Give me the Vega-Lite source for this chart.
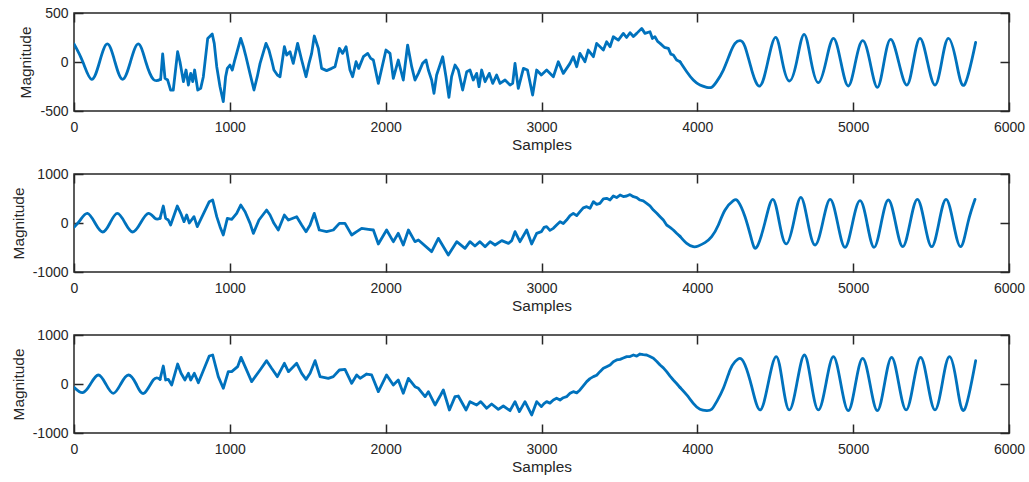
{
  "$schema": "https://vega.github.io/schema/vega-lite/v6.json",
  "autosize": "none",
  "padding": {"left": 74, "top": 13, "right": 955, "bottom": 469},
  "background": "white",
  "bounds": "flush",
  "spacing": 63,
  "datasets": {
    "p1": [
      {"s":0,"v":184},{"s":57,"v":0},{"s":113,"v":-177},{"s":164,"v":0},{"s":214,"v":184},{"s":263,"v":0},{"s":312,"v":-177},{"s":362,"v":0},{"s":413,"v":184},{"s":461,"v":0},{"s":509,"v":-177},{"s":556,"v":-177},
      {"s":569,"v":82},{"s":584,"v":-167},{"s":601,"v":-184},{"s":620,"v":-286},{"s":637,"v":-286},{"s":665,"v":105},{"s":680,"v":3},{"s":702,"v":-200},{"s":719,"v":-82},{"s":734,"v":-235},{"s":749,"v":-116},{"s":762,"v":-200},{"s":774,"v":-82},{"s":794,"v":-286},{"s":813,"v":-269},{"s":830,"v":-150},
      {"s":858,"v":241},{"s":887,"v":286},{"s":900,"v":190},{"s":916,"v":-48},{"s":937,"v":-252},{"s":958,"v":-405},{"s":973,"v":-150},{"s":984,"v":-65},{"s":1001,"v":-31},{"s":1016,"v":-82},{"s":1029,"v":3},{"s":1070,"v":241},{"s":1087,"v":156},{"s":1101,"v":71},{"s":1129,"v":-116},{"s":1155,"v":-286},{"s":1176,"v":-150},{"s":1194,"v":-14},{"s":1232,"v":190},{"s":1251,"v":122},{"s":1268,"v":20},{"s":1283,"v":-82},{"s":1305,"v":-133},{"s":1322,"v":-150},
      {"s":1350,"v":156},{"s":1365,"v":71},{"s":1386,"v":105},{"s":1407,"v":-14},{"s":1435,"v":190},{"s":1461,"v":20},{"s":1489,"v":-150},{"s":1508,"v":-14},{"s":1525,"v":88},{"s":1542,"v":265},{"s":1568,"v":139},{"s":1589,"v":-65},{"s":1621,"v":-88},{"s":1654,"v":-65},{"s":1675,"v":-48},{"s":1703,"v":139},{"s":1724,"v":88},{"s":1746,"v":156},{"s":1771,"v":-82},{"s":1788,"v":-150},{"s":1810,"v":3},{"s":1827,"v":-65},{"s":1857,"v":54},{"s":1885,"v":88},{"s":1904,"v":37},{"s":1921,"v":20},{"s":1953,"v":-218},
      {"s":2002,"v":122},{"s":2028,"v":88},{"s":2049,"v":-167},{"s":2081,"v":20},{"s":2113,"v":-184},{"s":2141,"v":173},{"s":2167,"v":-48},{"s":2188,"v":-184},{"s":2210,"v":-116},{"s":2237,"v":-14},{"s":2259,"v":20},{"s":2274,"v":-82},{"s":2295,"v":-184},{"s":2310,"v":-320},{"s":2327,"v":-133},{"s":2366,"v":54},{"s":2387,"v":-150},{"s":2406,"v":-360},{"s":2423,"v":-150},{"s":2445,"v":-31},{"s":2466,"v":-82},{"s":2494,"v":-286},{"s":2520,"v":-99},{"s":2541,"v":-82},{"s":2562,"v":-184},{"s":2584,"v":-116},{"s":2599,"v":-252},{"s":2616,"v":-82},{"s":2638,"v":-201},{"s":2665,"v":-116},{"s":2687,"v":-218},{"s":2712,"v":-133},{"s":2734,"v":-218},{"s":2766,"v":-184},{"s":2798,"v":-235},{"s":2815,"v":-218},{"s":2830,"v":-14},{"s":2851,"v":-269},{"s":2884,"v":-65},{"s":2910,"v":-82},{"s":2943,"v":-337},{"s":2969,"v":-82},
      {"s":2999,"v":-133},{"s":3033,"v":-82},{"s":3076,"v":-150},{"s":3108,"v":3},{"s":3140,"v":-116},{"s":3183,"v":-14},{"s":3204,"v":54},{"s":3226,"v":-48},{"s":3247,"v":88},{"s":3279,"v":3},{"s":3300,"v":122},{"s":3333,"v":54},{"s":3354,"v":190},{"s":3397,"v":122},{"s":3418,"v":207},{"s":3440,"v":156},{"s":3461,"v":258},{"s":3493,"v":224},{"s":3525,"v":292},{"s":3546,"v":250},{"s":3568,"v":299},{"s":3590,"v":260},{"s":3611,"v":292},{"s":3643,"v":343},{"s":3664,"v":292},{"s":3696,"v":309},{"s":3712,"v":240},{"s":3728,"v":258},{"s":3745,"v":210},{"s":3761,"v":190},{"s":3788,"v":150},{"s":3814,"v":139},{"s":3830,"v":80},{"s":3846,"v":71},{"s":3867,"v":20},{"s":3889,"v":3},
      {"s":3932,"v":-99},{"s":3974,"v":-184},{"s":4017,"v":-235},{"s":4060,"v":-258},{"s":4092,"v":-258},{"s":4124,"v":-200},{"s":4167,"v":-82},{"s":4210,"v":88},{"s":4242,"v":190},{"s":4274,"v":218},{"s":4306,"v":156},{"s":4349,"v":-82},{"s":4402,"v":-245},
      {"s":4452,"v":0},{"s":4503,"v":252},{"s":4546,"v":0},{"s":4590,"v":-194},{"s":4637,"v":0},{"s":4685,"v":282},{"s":4731,"v":0},{"s":4777,"v":-211},{"s":4825,"v":0},{"s":4873,"v":241},{"s":4921,"v":0},{"s":4969,"v":-245},{"s":5015,"v":0},{"s":5061,"v":218},{"s":5108,"v":0},{"s":5155,"v":-258},{"s":5198,"v":0},{"s":5241,"v":231},{"s":5292,"v":0},{"s":5344,"v":-235},{"s":5386,"v":0},{"s":5429,"v":241},{"s":5477,"v":0},{"s":5525,"v":-235},{"s":5568,"v":0},{"s":5611,"v":241},{"s":5662,"v":0},{"s":5713,"v":-235},{"s":5786,"v":200}
    ],
    "p2": [
      {"s":0,"v":-88},{"s":40,"v":60},{"s":86,"v":197},{"s":135,"v":0},{"s":184,"v":-184},{"s":231,"v":0},{"s":278,"v":197},{"s":328,"v":0},{"s":377,"v":-184},{"s":427,"v":0},{"s":477,"v":197},{"s":520,"v":95},{"s":552,"v":95},
      {"s":573,"v":347},{"s":588,"v":95},{"s":605,"v":61},{"s":620,"v":-41},{"s":663,"v":347},{"s":685,"v":197},{"s":706,"v":27},{"s":723,"v":163},{"s":740,"v":0},{"s":770,"v":129},{"s":791,"v":-75},
      {"s":868,"v":435},{"s":890,"v":469},{"s":916,"v":129},{"s":937,"v":-75},{"s":958,"v":-245},{"s":984,"v":95},{"s":1012,"v":75},{"s":1044,"v":197},{"s":1070,"v":367},{"s":1098,"v":231},{"s":1130,"v":-7},{"s":1151,"v":-211},{"s":1187,"v":61},{"s":1236,"v":265},{"s":1258,"v":163},{"s":1283,"v":-7},{"s":1311,"v":-143},
      {"s":1350,"v":163},{"s":1376,"v":61},{"s":1429,"v":129},{"s":1461,"v":-41},{"s":1489,"v":-177},{"s":1515,"v":-41},{"s":1542,"v":197},{"s":1574,"v":-143},{"s":1621,"v":-177},{"s":1664,"v":-143},{"s":1703,"v":-7},{"s":1739,"v":-7},{"s":1782,"v":-245},{"s":1814,"v":-177},{"s":1846,"v":-109},{"s":1889,"v":-129},{"s":1921,"v":-143},{"s":1953,"v":-428},
      {"s":2006,"v":-143},{"s":2049,"v":-381},{"s":2081,"v":-211},{"s":2113,"v":-449},{"s":2146,"v":-143},{"s":2188,"v":-381},{"s":2210,"v":-347},{"s":2295,"v":-585},{"s":2338,"v":-313},{"s":2402,"v":-653},{"s":2456,"v":-381},{"s":2509,"v":-517},{"s":2541,"v":-381},{"s":2573,"v":-469},{"s":2605,"v":-381},{"s":2638,"v":-483},{"s":2670,"v":-381},{"s":2702,"v":-449},{"s":2745,"v":-360},{"s":2788,"v":-415},{"s":2809,"v":-360},{"s":2830,"v":-177},{"s":2862,"v":-381},{"s":2905,"v":-143},{"s":2937,"v":-428},{"s":2969,"v":-211},
      {"s":2999,"v":-177},{"s":3016,"v":-90},{"s":3033,"v":-75},{"s":3054,"v":-150},{"s":3076,"v":-109},{"s":3097,"v":-40},{"s":3119,"v":27},{"s":3140,"v":-10},{"s":3161,"v":61},{"s":3183,"v":150},{"s":3204,"v":197},{"s":3226,"v":150},{"s":3247,"v":231},{"s":3268,"v":310},{"s":3290,"v":333},{"s":3311,"v":300},{"s":3333,"v":435},{"s":3354,"v":380},{"s":3375,"v":401},{"s":3397,"v":490},{"s":3418,"v":503},{"s":3440,"v":470},{"s":3461,"v":551},{"s":3482,"v":520},{"s":3504,"v":571},{"s":3525,"v":540},{"s":3547,"v":551},{"s":3568,"v":580},{"s":3590,"v":537},{"s":3611,"v":520},{"s":3632,"v":469},{"s":3653,"v":450},{"s":3675,"v":401},{"s":3696,"v":350},{"s":3718,"v":265},{"s":3740,"v":200},{"s":3761,"v":129},{"s":3782,"v":60},{"s":3803,"v":-41},{"s":3825,"v":-90},{"s":3846,"v":-143},{"s":3867,"v":-210},{"s":3889,"v":-272},
      {"s":3932,"v":-415},{"s":3974,"v":-483},{"s":4006,"v":-469},{"s":4049,"v":-401},{"s":4092,"v":-279},{"s":4135,"v":-41},{"s":4178,"v":265},{"s":4231,"v":456},{"s":4263,"v":435},{"s":4306,"v":129},{"s":4349,"v":-347},{"s":4381,"v":-496},
      {"s":4433,"v":0},{"s":4484,"v":483},{"s":4527,"v":0},{"s":4570,"v":-428},{"s":4617,"v":0},{"s":4664,"v":524},{"s":4710,"v":0},{"s":4756,"v":-449},{"s":4804,"v":0},{"s":4852,"v":483},{"s":4900,"v":0},{"s":4948,"v":-496},{"s":4996,"v":0},{"s":5044,"v":456},{"s":5089,"v":0},{"s":5134,"v":-496},{"s":5180,"v":0},{"s":5226,"v":469},{"s":5272,"v":0},{"s":5318,"v":-483},{"s":5365,"v":0},{"s":5412,"v":483},{"s":5458,"v":0},{"s":5504,"v":-483},{"s":5550,"v":0},{"s":5596,"v":483},{"s":5643,"v":0},{"s":5690,"v":-483},{"s":5736,"v":0},{"s":5782,"v":483}
    ],
    "p3": [
      {"s":0,"v":-68},{"s":56,"v":-177},{"s":106,"v":0},{"s":156,"v":184},{"s":204,"v":0},{"s":252,"v":-190},{"s":300,"v":0},{"s":349,"v":184},{"s":399,"v":0},{"s":449,"v":-190},{"s":509,"v":82},{"s":552,"v":95},
      {"s":573,"v":367},{"s":588,"v":82},{"s":605,"v":95},{"s":627,"v":-20},{"s":665,"v":408},{"s":687,"v":218},{"s":712,"v":82},{"s":734,"v":218},{"s":749,"v":82},{"s":772,"v":218},{"s":798,"v":27},
      {"s":868,"v":571},{"s":890,"v":592},{"s":926,"v":150},{"s":958,"v":-88},{"s":990,"v":252},{"s":1012,"v":252},{"s":1050,"v":354},{"s":1072,"v":544},{"s":1098,"v":354},{"s":1140,"v":48},{"s":1194,"v":286},{"s":1236,"v":476},{"s":1268,"v":320},{"s":1305,"v":150},
      {"s":1350,"v":422},{"s":1376,"v":252},{"s":1429,"v":422},{"s":1461,"v":218},{"s":1489,"v":95},{"s":1515,"v":218},{"s":1547,"v":476},{"s":1579,"v":150},{"s":1632,"v":116},{"s":1664,"v":150},{"s":1703,"v":286},{"s":1739,"v":299},{"s":1782,"v":14},{"s":1814,"v":184},{"s":1836,"v":116},{"s":1878,"v":204},{"s":1910,"v":184},{"s":1953,"v":-156},
      {"s":2006,"v":184},{"s":2049,"v":-20},{"s":2081,"v":82},{"s":2113,"v":-190},{"s":2146,"v":116},{"s":2188,"v":-54},{"s":2210,"v":-88},{"s":2253,"v":-258},{"s":2274,"v":-156},{"s":2317,"v":-428},{"s":2353,"v":-224},{"s":2370,"v":-122},{"s":2409,"v":-530},{"s":2445,"v":-258},{"s":2466,"v":-245},{"s":2516,"v":-530},{"s":2541,"v":-360},{"s":2584,"v":-428},{"s":2610,"v":-360},{"s":2648,"v":-496},{"s":2680,"v":-408},{"s":2723,"v":-517},{"s":2755,"v":-449},{"s":2798,"v":-544},{"s":2830,"v":-360},{"s":2858,"v":-564},{"s":2894,"v":-360},{"s":2937,"v":-632},{"s":2969,"v":-360},
      {"s":2999,"v":-462},{"s":3016,"v":-400},{"s":3033,"v":-360},{"s":3054,"v":-390},{"s":3076,"v":-326},{"s":3097,"v":-290},{"s":3119,"v":-326},{"s":3140,"v":-280},{"s":3161,"v":-258},{"s":3183,"v":-190},{"s":3204,"v":-156},{"s":3226,"v":-180},{"s":3247,"v":-122},{"s":3268,"v":-40},{"s":3290,"v":48},{"s":3311,"v":110},{"s":3333,"v":150},{"s":3354,"v":180},{"s":3375,"v":252},{"s":3397,"v":320},{"s":3418,"v":354},{"s":3440,"v":390},{"s":3461,"v":456},{"s":3482,"v":490},{"s":3504,"v":503},{"s":3525,"v":530},{"s":3547,"v":558},{"s":3568,"v":560},{"s":3590,"v":592},{"s":3611,"v":570},{"s":3632,"v":612},{"s":3653,"v":600},{"s":3675,"v":592},{"s":3696,"v":560},{"s":3718,"v":524},{"s":3740,"v":460},{"s":3761,"v":388},{"s":3782,"v":330},{"s":3803,"v":252},{"s":3825,"v":160},{"s":3846,"v":82},{"s":3867,"v":10},{"s":3889,"v":-71},
      {"s":3932,"v":-224},{"s":3974,"v":-394},{"s":4017,"v":-517},{"s":4060,"v":-544},{"s":4092,"v":-517},{"s":4124,"v":-360},{"s":4167,"v":-88},{"s":4210,"v":286},{"s":4242,"v":456},{"s":4274,"v":524},{"s":4306,"v":388},{"s":4349,"v":-54},{"s":4402,"v":-530},
      {"s":4454,"v":0},{"s":4506,"v":558},{"s":4548,"v":0},{"s":4590,"v":-530},{"s":4638,"v":0},{"s":4687,"v":592},{"s":4732,"v":0},{"s":4777,"v":-530},{"s":4825,"v":0},{"s":4873,"v":558},{"s":4921,"v":0},{"s":4969,"v":-544},{"s":5015,"v":0},{"s":5061,"v":524},{"s":5108,"v":0},{"s":5155,"v":-544},{"s":5201,"v":0},{"s":5247,"v":544},{"s":5293,"v":0},{"s":5340,"v":-530},{"s":5386,"v":0},{"s":5433,"v":544},{"s":5479,"v":0},{"s":5525,"v":-530},{"s":5571,"v":0},{"s":5617,"v":558},{"s":5665,"v":0},{"s":5713,"v":-530},{"s":5786,"v":476}
    ]
  },
  "vconcat": [
    {
      "width": 935, "height": 98,
      "data": {"name": "p1"},
      "layer": [
        {
          "transform": [{"filter": "datum.s <= 556"}],
          "mark": {"type": "line", "color": "#0072BD", "strokeWidth": 2.8, "interpolate": "natural", "clip": true},
          "encoding": {
            "x": {"field": "s", "type": "quantitative", "scale": {"domain": [0, 6000], "nice": false, "zero": false}, "axis": {"orient": "bottom", "values": [0,1000,2000,3000,4000,5000,6000], "labelExpr": "'' + datum.value", "title": "Samples"}},
            "y": {"field": "v", "type": "quantitative", "scale": {"domain": [-500, 500], "nice": false}, "axis": {"orient": "left", "values": [-500, 0, 500], "labelExpr": "'' + datum.value", "title": "Magnitude"}}
          }
        },
        {
          "transform": [{"filter": "datum.s >= 552 && datum.s <= 3889"}],
          "mark": {"type": "line", "color": "#0072BD", "strokeWidth": 2.8, "interpolate": "linear", "clip": true},
          "encoding": {
            "x": {"field": "s", "type": "quantitative", "axis": null},
            "y": {"field": "v", "type": "quantitative", "axis": null}
          }
        },
        {
          "transform": [{"filter": "datum.s >= 3889"}],
          "mark": {"type": "line", "color": "#0072BD", "strokeWidth": 2.8, "interpolate": "natural", "clip": true},
          "encoding": {
            "x": {"field": "s", "type": "quantitative", "axis": null},
            "y": {"field": "v", "type": "quantitative", "axis": null}
          }
        },
        {
          "mark": {"type": "line", "strokeOpacity": 0},
          "encoding": {
            "x": {"field": "s", "type": "quantitative", "axis": {"orient": "top", "values": [0,1000,2000,3000,4000,5000,6000], "labels": false, "title": null}},
            "y": {"field": "v", "type": "quantitative", "axis": {"orient": "right", "values": [-500, 0, 500], "labels": false, "title": null}}
          }
        }
      ],
      "resolve": {"axis": {"x": "independent", "y": "independent"}}
    },
    {
      "width": 935, "height": 98,
      "data": {"name": "p2"},
      "layer": [
        {
          "transform": [{"filter": "datum.s <= 552"}],
          "mark": {"type": "line", "color": "#0072BD", "strokeWidth": 2.8, "interpolate": "natural", "clip": true},
          "encoding": {
            "x": {"field": "s", "type": "quantitative", "scale": {"domain": [0, 6000], "nice": false, "zero": false}, "axis": {"orient": "bottom", "values": [0,1000,2000,3000,4000,5000,6000], "labelExpr": "'' + datum.value", "title": "Samples"}},
            "y": {"field": "v", "type": "quantitative", "scale": {"domain": [-1000, 1000], "nice": false}, "axis": {"orient": "left", "values": [-1000, 0, 1000], "labelExpr": "'' + datum.value", "title": "Magnitude"}}
          }
        },
        {
          "transform": [{"filter": "datum.s >= 552 && datum.s <= 3889"}],
          "mark": {"type": "line", "color": "#0072BD", "strokeWidth": 2.8, "interpolate": "linear", "clip": true},
          "encoding": {
            "x": {"field": "s", "type": "quantitative", "axis": null},
            "y": {"field": "v", "type": "quantitative", "axis": null}
          }
        },
        {
          "transform": [{"filter": "datum.s >= 3889"}],
          "mark": {"type": "line", "color": "#0072BD", "strokeWidth": 2.8, "interpolate": "natural", "clip": true},
          "encoding": {
            "x": {"field": "s", "type": "quantitative", "axis": null},
            "y": {"field": "v", "type": "quantitative", "axis": null}
          }
        },
        {
          "mark": {"type": "line", "strokeOpacity": 0},
          "encoding": {
            "x": {"field": "s", "type": "quantitative", "axis": {"orient": "top", "values": [0,1000,2000,3000,4000,5000,6000], "labels": false, "title": null}},
            "y": {"field": "v", "type": "quantitative", "axis": {"orient": "right", "values": [-1000, 0, 1000], "labels": false, "title": null}}
          }
        }
      ],
      "resolve": {"axis": {"x": "independent", "y": "independent"}}
    },
    {
      "width": 935, "height": 98,
      "data": {"name": "p3"},
      "layer": [
        {
          "transform": [{"filter": "datum.s <= 552"}],
          "mark": {"type": "line", "color": "#0072BD", "strokeWidth": 2.8, "interpolate": "natural", "clip": true},
          "encoding": {
            "x": {"field": "s", "type": "quantitative", "scale": {"domain": [0, 6000], "nice": false, "zero": false}, "axis": {"orient": "bottom", "values": [0,1000,2000,3000,4000,5000,6000], "labelExpr": "'' + datum.value", "title": "Samples"}},
            "y": {"field": "v", "type": "quantitative", "scale": {"domain": [-1000, 1000], "nice": false}, "axis": {"orient": "left", "values": [-1000, 0, 1000], "labelExpr": "'' + datum.value", "title": "Magnitude"}}
          }
        },
        {
          "transform": [{"filter": "datum.s >= 552 && datum.s <= 3889"}],
          "mark": {"type": "line", "color": "#0072BD", "strokeWidth": 2.8, "interpolate": "linear", "clip": true},
          "encoding": {
            "x": {"field": "s", "type": "quantitative", "axis": null},
            "y": {"field": "v", "type": "quantitative", "axis": null}
          }
        },
        {
          "transform": [{"filter": "datum.s >= 3889"}],
          "mark": {"type": "line", "color": "#0072BD", "strokeWidth": 2.8, "interpolate": "natural", "clip": true},
          "encoding": {
            "x": {"field": "s", "type": "quantitative", "axis": null},
            "y": {"field": "v", "type": "quantitative", "axis": null}
          }
        },
        {
          "mark": {"type": "line", "strokeOpacity": 0},
          "encoding": {
            "x": {"field": "s", "type": "quantitative", "axis": {"orient": "top", "values": [0,1000,2000,3000,4000,5000,6000], "labels": false, "title": null}},
            "y": {"field": "v", "type": "quantitative", "axis": {"orient": "right", "values": [-1000, 0, 1000], "labels": false, "title": null}}
          }
        }
      ],
      "resolve": {"axis": {"x": "independent", "y": "independent"}}
    }
  ],
  "config": {
    "view": {"stroke": "#262626", "strokeWidth": 1.5},
    "line": {"strokeJoin": "round", "strokeCap": "round"},
    "axis": {
      "domain": false, "grid": false,
      "tickSize": -9, "tickColor": "#262626", "tickWidth": 1.5,
      "labelFlush": false,
      "labelFont": "Liberation Sans", "labelFontSize": 14, "labelColor": "#262626",
      "titleFont": "Liberation Sans", "titleFontSize": 15.4, "titleFontWeight": "normal", "titleColor": "#262626"
    },
    "axisX": {"labelPadding": 18, "titlePadding": 3},
    "axisY": {"labelPadding": 15, "titlePadding": 6}
  }
}
